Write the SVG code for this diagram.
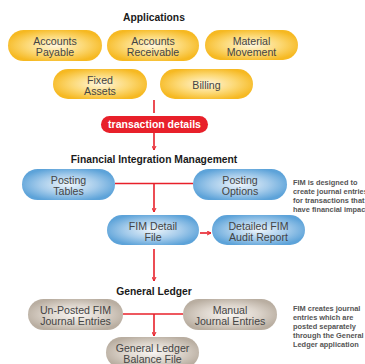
<svg xmlns="http://www.w3.org/2000/svg" width="365" height="364" viewBox="0 0 365 364">
<defs>
<radialGradient id="gy" cx="50%" cy="50%" r="55%">
<stop offset="0" stop-color="#FFF6DC"/>
<stop offset="0.55" stop-color="#FCD976"/>
<stop offset="1" stop-color="#F6B922"/>
</radialGradient>
<radialGradient id="gb" cx="50%" cy="50%" r="55%">
<stop offset="0" stop-color="#EEF5FB"/>
<stop offset="0.55" stop-color="#A6CCEB"/>
<stop offset="1" stop-color="#5DA3D9"/>
</radialGradient>
<radialGradient id="gg" cx="50%" cy="50%" r="55%">
<stop offset="0" stop-color="#F8F5F2"/>
<stop offset="0.55" stop-color="#DCD4CB"/>
<stop offset="1" stop-color="#B9AEA1"/>
</radialGradient>
<marker id="ah" viewBox="0 0 10 10" refX="9" refY="5" markerWidth="5" markerHeight="5" orient="auto" markerUnits="userSpaceOnUse">
<path d="M1,1 L9,5 L1,9" fill="none" stroke="#E8202A" stroke-width="2"/>
</marker>
<style>
.t{font-family:"Liberation Sans",Arial,sans-serif;font-size:10.6px;fill:#444;text-anchor:middle}
.h{font-family:"Liberation Sans",Arial,sans-serif;font-size:10.3px;font-weight:bold;fill:#1a1a1a;text-anchor:middle}
.n{font-family:"Liberation Sans",Arial,sans-serif;font-size:7.4px;font-weight:bold;fill:#555}
.y{fill:url(#gy)}
.b{fill:url(#gb)}
.g{fill:url(#gg)}
.c{stroke:#E8202A;stroke-width:1.6;fill:none}
</style>
</defs>
<rect width="365" height="364" fill="#fff"/>
<text class="h" x="154" y="20.5">Applications</text>
<text class="h" x="154" y="162.5">Financial Integration Management</text>
<text class="h" x="154" y="294.5">General Ledger</text>

<g id="connectors">
<line class="c" x1="154" y1="100" x2="154" y2="113"/>
<line class="c" x1="154" y1="133" x2="154" y2="150" marker-end="url(#ah)"/>
<line class="c" x1="115" y1="183.5" x2="193" y2="183.5"/>
<line class="c" x1="154" y1="183.5" x2="154" y2="212" marker-end="url(#ah)"/>
<line class="c" x1="200" y1="233" x2="211" y2="233" marker-end="url(#ah)"/>
<line class="c" x1="154" y1="249" x2="154" y2="281" marker-end="url(#ah)"/>
<line class="c" x1="123" y1="314" x2="183" y2="314"/>
<line class="c" x1="154" y1="314" x2="154" y2="336" marker-end="url(#ah)"/>
</g>

<g id="accounts-payable"><rect class="y" x="8" y="30" width="94" height="31" rx="15.5"/><text class="t" x="55" y="44.5">Accounts</text><text class="t" x="55" y="55.5">Payable</text></g>
<g id="accounts-receivable"><rect class="y" x="107" y="30" width="92" height="31" rx="15.5"/><text class="t" x="153" y="44.5">Accounts</text><text class="t" x="153" y="55.5">Receivable</text></g>
<g id="material-movement"><rect class="y" x="205" y="30" width="93" height="30" rx="15"/><text class="t" x="251.5" y="44.5">Material</text><text class="t" x="251.5" y="55.5">Movement</text></g>
<g id="fixed-assets"><rect class="y" x="53" y="69" width="94" height="30" rx="15"/><text class="t" x="100" y="83.5">Fixed</text><text class="t" x="100" y="94.5">Assets</text></g>
<g id="billing"><rect class="y" x="160" y="69" width="93" height="30" rx="15"/><text class="t" x="206.5" y="88.5">Billing</text></g>

<g id="transaction-details"><rect x="101" y="116" width="107" height="17" rx="8.5" fill="#E8202A"/><text class="h" x="154.5" y="128.3" style="fill:#fff;font-size:10.5px">transaction details</text></g>

<g id="posting-tables"><rect class="b" x="22" y="169" width="93" height="31" rx="15.5"/><text class="t" x="68.5" y="183.5">Posting</text><text class="t" x="68.5" y="194.5">Tables</text></g>
<g id="posting-options"><rect class="b" x="193" y="169" width="94" height="31" rx="15.5"/><text class="t" x="240" y="183.5">Posting</text><text class="t" x="240" y="194.5">Options</text></g>
<g id="fim-detail-file"><rect class="b" x="107" y="215" width="92" height="30" rx="15"/><text class="t" x="153" y="229.5">FIM Detail</text><text class="t" x="153" y="240.5">File</text></g>
<g id="audit-report"><rect class="b" x="212" y="215" width="93" height="30" rx="15"/><text class="t" x="258.5" y="229.5">Detailed FIM</text><text class="t" x="258.5" y="240.5">Audit Report</text></g>

<g id="unposted"><rect class="g" x="28" y="299" width="95" height="31" rx="15.5"/><text class="t" x="75.5" y="313.5">Un-Posted FIM</text><text class="t" x="75.5" y="324.5">Journal Entries</text></g>
<g id="manual"><rect class="g" x="183" y="299" width="94" height="31" rx="15.5"/><text class="t" x="230" y="313.5">Manual</text><text class="t" x="230" y="324.5">Journal Entries</text></g>
<g id="balance-file"><rect class="g" x="106" y="337" width="93" height="31" rx="15.5"/><text class="t" x="152.5" y="351.5">General Ledger</text><text class="t" x="152.5" y="362.5">Balance File</text></g>

<g id="note-fim">
<text class="n" x="293" y="184.5">FIM is designed to</text>
<text class="n" x="293" y="193.5">create journal entries</text>
<text class="n" x="293" y="202.5">for transactions that</text>
<text class="n" x="293" y="211.5">have financial impact</text>
</g>
<g id="note-gl">
<text class="n" x="293" y="310.5">FIM creates journal</text>
<text class="n" x="293" y="319.5">entries which are</text>
<text class="n" x="293" y="328.5">posted separately</text>
<text class="n" x="293" y="337.5">through the General</text>
<text class="n" x="293" y="346.5">Ledger application</text>
</g>
</svg>
